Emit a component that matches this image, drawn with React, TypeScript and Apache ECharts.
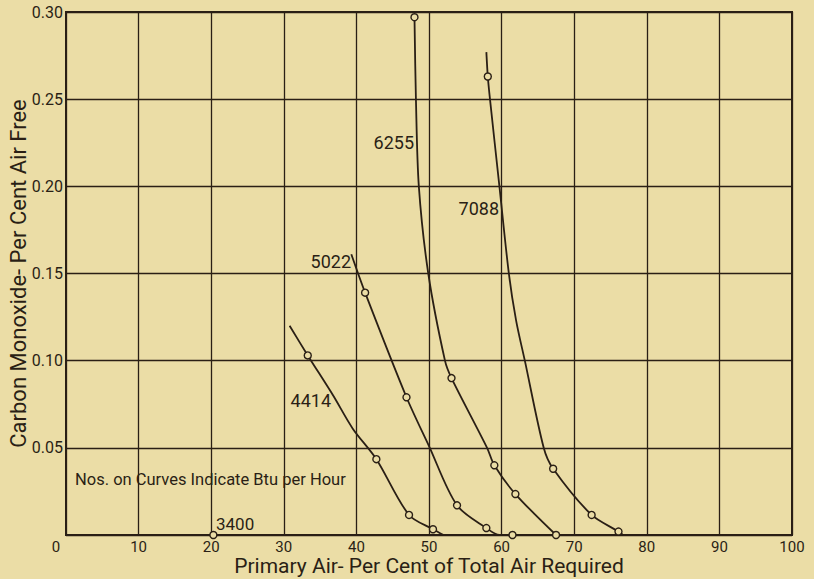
import React, { useEffect, useRef } from "react";
import * as echarts from "echarts";

// Smooth curve traces: [x (% primary air), y (% CO)]
const curve4414 = [[30.8, 0.12], [33.3, 0.103], [36.8, 0.08], [39.5, 0.061], [42.75, 0.0435], [47.25, 0.0115], [50.55, 0.0033], [52.0, 0]];
const curve5022 = [[39.3, 0.161], [41.2, 0.139], [46.9, 0.079], [50.0, 0.051], [53.86, 0.017], [57.9, 0.004], [59.7, 0], [61.5, 0]];
const curve6255 = [[48.0, 0.297], [48.2, 0.25], [48.6, 0.2], [49.9, 0.15], [52.2, 0.1], [53.1, 0.09], [58.0, 0.05], [59.0, 0.04], [61.9, 0.0235], [67.5, 0]];
const curve7088 = [[57.9, 0.277], [58.1, 0.263], [58.4, 0.25], [59.7, 0.2], [61.0, 0.15], [62.0, 0.123], [63.2, 0.1], [65.8, 0.05], [67.1, 0.038], [72.4, 0.0115], [76.1, 0.002], [76.7, 0]];

// Observed points (hollow circles)
const obs3400 = [[20.3, 0]];
const obs4414 = [[33.3, 0.103], [42.75, 0.0435], [47.25, 0.0115], [50.55, 0.0033]];
const obs5022 = [[41.2, 0.139], [46.9, 0.079], [53.86, 0.017], [57.9, 0.004], [61.5, 0]];
const obs6255 = [[48.0, 0.297], [53.1, 0.09], [59.0, 0.04], [61.9, 0.0235], [67.5, 0]];
const obs7088 = [[58.1, 0.263], [67.1, 0.038], [72.4, 0.0115], [76.1, 0.002]];

const curveNames = ["3400", "4414", "5022", "6255", "7088"];
const note = "Nos. on Curves Indicate Btu per Hour";
const xTitle = "Primary Air- Per Cent of Total Air Required";
const yTitle = "Carbon Monoxide- Per Cent Air Free";

const BG = "#ebdda6";
const INK = "#2a1f15";
const FONT = "Roboto, 'Noto Sans', sans-serif";

export default function App() {
  const ref = useRef<HTMLDivElement>(null);
  useEffect(() => {
    document.body.style.margin = "0";
    document.body.style.background = BG;
    const chart = echarts.init(ref.current!, null, { renderer: "svg" });
    const lineSeries = (data: number[][]) => ({
      type: "line",
      data,
      smooth: 0.3,
      showSymbol: false,
      symbol: "none",
      lineStyle: { color: INK, width: 1.8 },
      z: 3,
      silent: true,
    });
    const scatterSeries = (data: number[][]) => ({
      type: "scatter",
      data,
      symbol: "circle",
      symbolSize: 7,
      clip: false,
      itemStyle: { color: BG, borderColor: INK, borderWidth: 1.4, opacity: 1 },
      z: 5,
      silent: true,
    });
    const labelText = (text: string, x: number, y: number, align: string, size = 18) => ({
      type: "text",
      x,
      y,
      z: 10,
      style: {
        text,
        fill: INK,
        font: `${size}px ${FONT}`,
        textAlign: align,
        textVerticalAlign: "middle",
      },
    });
    chart.setOption({
      animation: false,
      backgroundColor: BG,
      textStyle: { fontFamily: FONT, color: INK },
      grid: {
        left: 66,
        right: 22,
        top: 12,
        bottom: 44,
        outerBoundsMode: "none",
        containLabel: false,
        show: true,
        borderColor: INK,
        borderWidth: 2,
        backgroundColor: "transparent",
      },
      xAxis: {
        type: "value",
        min: 0,
        max: 100,
        interval: 10,
        name: xTitle,
        nameLocation: "middle",
        nameGap: 20,
        nameMoveOverlap: false,
        nameTextStyle: { fontSize: 21, lineHeight: 21, color: INK, fontFamily: FONT },
        axisLine: { show: false },
        axisTick: { show: false },
        axisLabel: {
          fontSize: 15,
          lineHeight: 15,
          color: INK,
          margin: 4,
          fontFamily: FONT,
          formatter: (v: number) => (v === 0 ? "{z|0}" : String(v)),
          rich: { z: { fontSize: 15, lineHeight: 15, color: INK, padding: [0, 20, 0, 0], fontFamily: FONT } },
        },
        splitLine: { show: true, lineStyle: { color: INK, width: 1.3 } },
      },
      yAxis: {
        type: "value",
        min: 0,
        max: 0.3,
        interval: 0.05,
        name: yTitle,
        nameLocation: "middle",
        nameGap: 37,
        nameMoveOverlap: false,
        nameTextStyle: { fontSize: 22, color: INK, fontFamily: FONT },
        axisLine: { show: false },
        axisTick: { show: false },
        axisLabel: {
          fontSize: 16,
          color: INK,
          margin: 3,
          fontFamily: FONT,
          formatter: (v: number) => (v === 0 ? "" : v.toFixed(2)),
        },
        splitLine: { show: true, lineStyle: { color: INK, width: 1.3 } },
      },
      series: [
        lineSeries(curve4414),
        lineSeries(curve5022),
        lineSeries(curve6255),
        lineSeries(curve7088),
        scatterSeries(obs3400),
        scatterSeries(obs4414),
        scatterSeries(obs5022),
        scatterSeries(obs6255),
        scatterSeries(obs7088),
      ],
      graphic: [
        labelText(curveNames[0], 216, 524, "left", 17),
        labelText(curveNames[1], 331, 400, "right"),
        labelText(curveNames[2], 351, 261, "right"),
        labelText(curveNames[3], 414, 142, "right"),
        labelText(curveNames[4], 499, 208, "right"),
        {
          type: "text",
          x: 75,
          y: 479,
          z: 10,
          style: { text: note, fill: INK, font: `16.5px ${FONT}`, textVerticalAlign: "middle" },
        },
      ],
    });
    return () => chart.dispose();
  }, []);
  return (
    <div
      ref={ref}
      style={{ position: "fixed", left: 0, top: 0, width: 814, height: 579 }}
    />
  );
}
